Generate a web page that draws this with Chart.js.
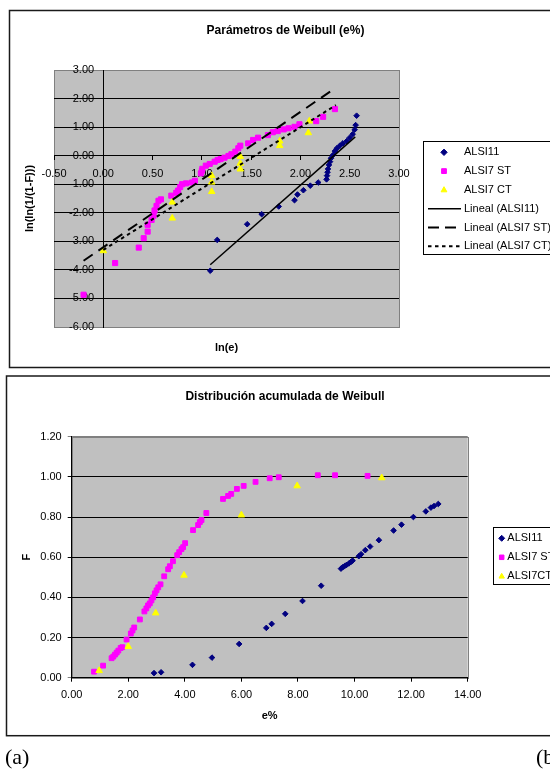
<!DOCTYPE html>
<html>
<head>
<meta charset="utf-8">
<script src="https://cdn.jsdelivr.net/npm/chart.js"></script>
<style>
html, body { margin: 0; padding: 0; background: #fff; width: 550px; height: 769px; overflow: hidden; position: relative; }
canvas { position: absolute; left: 0; }
#weibull { top: 0; }
#accum { top: 370px; }
.tag { position: absolute; font-family: 'Liberation Serif', 'Times New Roman', serif; font-size: 22px; color: #000; white-space: nowrap; }
</style>
</head>
<body>
<canvas id="weibull" width="550" height="370"></canvas>
<canvas id="accum" width="550" height="399"></canvas>
<div class="tag" style="left:5px; top:744px;">(a)</div>
<div class="tag" style="left:536px; top:744px;">(b)</div>
<script>
// Top chart: ln(e) vs ln(ln(1/(1-F)))
const lnE11 = [1.085, 1.156, 1.46, 1.607, 1.78, 1.94, 1.97, 2.03, 2.10, 2.18, 2.265, 2.27, 2.275, 2.28, 2.29, 2.30, 2.31, 2.33, 2.35, 2.37, 2.40, 2.43, 2.47, 2.50, 2.53, 2.55, 2.56, 2.57];
const lnF11 = [-4.03, -2.95, -2.40, -2.05, -1.78, -1.56, -1.36, -1.21, -1.05, -0.94, -0.83, -0.70, -0.58, -0.465, -0.325, -0.21, -0.09, 0.02, 0.16, 0.26, 0.35, 0.43, 0.51, 0.63, 0.75, 0.91, 1.07, 1.40];

const lnEST = [-0.20, 0.12, 0.36, 0.41, 0.45, 0.45, 0.49, 0.51, 0.52, 0.54, 0.56, 0.585, 0.69, 0.74, 0.76, 0.78, 0.80, 0.84, 0.90, 0.93,
    0.99, 1.00, 1.005, 1.04, 1.08, 1.13, 1.16, 1.19, 1.23, 1.27, 1.30, 1.34, 1.37, 1.39, 1.47, 1.52, 1.57, 1.67, 1.72, 1.77,
    1.83, 1.88, 1.94, 1.99, 2.16, 2.23, 2.35];
const lnFST = [-4.87, -3.76, -3.22, -2.89, -2.66, -2.42, -2.25, -2.10, -1.92, -1.76, -1.58, -1.53, -1.40, -1.30, -1.22, -1.10, -1.00, -0.97, -0.94, -0.88,
    -0.62, -0.53, -0.46, -0.35, -0.29, -0.21, -0.15, -0.12, -0.07, -0.01, 0.05, 0.14, 0.26, 0.35, 0.43, 0.55, 0.63, 0.72, 0.82, 0.86,
    0.92, 0.96, 1.01, 1.10, 1.21, 1.36, 1.63];

const lnECT = [0.00, 0.70, 0.70, 1.10, 1.10, 1.10, 1.39, 1.39, 1.39, 1.79, 1.79, 2.08, 2.09];
const lnFCT = [-3.33, -2.19, -1.63, -1.26, -0.93, -0.70, -0.47, -0.27, -0.03, 0.35, 0.51, 0.80, 1.21];

// Trend line end points
const fit11X = [1.085, 2.556];
const fit11Y = [-3.82, 0.66];
const fitSTX = [-0.20, 2.35];
const fitSTY = [-3.68, 2.36];
const fitCTX = [0.00, 2.36];
const fitCTY = [-3.30, 1.77];

// Bottom chart: e% vs F
const e11 = [2.91, 3.16, 4.27, 4.96, 5.92, 6.88, 7.07, 7.55, 8.16, 8.82, 9.52, 9.58, 9.65, 9.72, 9.80, 9.87, 9.93, 10.15, 10.23, 10.38,
    10.55, 10.86, 11.38, 11.66, 12.08, 12.52, 12.70, 12.81, 12.96];
const f11 = [0.023, 0.027, 0.064, 0.10, 0.168, 0.248, 0.268, 0.318, 0.382, 0.458, 0.543, 0.550, 0.556, 0.562, 0.569, 0.576, 0.583, 0.605, 0.615, 0.635,
    0.653, 0.685, 0.733, 0.762, 0.80, 0.828, 0.847, 0.855, 0.865];

const eST = [0.79, 1.11, 1.41, 1.47, 1.53, 1.59, 1.65, 1.73, 1.79, 1.94, 2.09, 2.15, 2.21, 2.41, 2.57, 2.64, 2.70, 2.76, 2.82, 2.88,
    2.94, 3.00, 3.06, 3.14, 3.27, 3.41, 3.47, 3.58, 3.73, 3.80, 3.88, 3.94, 4.01, 4.29, 4.47, 4.53, 4.59, 4.76, 5.35, 5.53,
    5.64, 5.84, 6.08, 6.50, 7.00, 7.32, 8.70, 9.31, 10.46];
const fST = [0.03, 0.06, 0.097, 0.105, 0.115, 0.125, 0.135, 0.148, 0.152, 0.19, 0.22, 0.235, 0.25, 0.29, 0.33, 0.345, 0.36, 0.37, 0.385, 0.40,
    0.42, 0.435, 0.45, 0.465, 0.505, 0.54, 0.555, 0.58, 0.61, 0.625, 0.64, 0.65, 0.67, 0.735, 0.76, 0.775, 0.785, 0.82, 0.89, 0.905,
    0.915, 0.94, 0.955, 0.975, 0.993, 0.998, 1.008, 1.008, 1.005];

const eCT = [0.97, 2.00, 2.97, 3.97, 6.00, 7.97, 10.96];
const fCT = [0.035, 0.155, 0.322, 0.51, 0.81, 0.955, 0.995];

const NAVY = '#000080';
const MAGENTA = '#FF00FF';
const YELLOW = '#FFFF00';
const FONT = "'Liberation Sans', Arial, Helvetica, sans-serif";

Chart.defaults.font.family = FONT;
Chart.defaults.font.size = 11;
Chart.defaults.color = '#000';

const pairs = (xs, ys) => xs.map((x, i) => ({x: x, y: ys[i]}));
const fixed2 = v => Number(v).toFixed(2);
// y labels of the crossing axis sit a few px clear of the axis line
const fixed2Gap = v => Number(v).toFixed(2) + '\u00a0\u00a0\u00a0';
const edgeGrid = (lo, hi) => c => (c.tick && (Math.abs(c.tick.value - lo) < 1e-9 || Math.abs(c.tick.value - hi) < 1e-9)) ? '#808080' : '#000';

function drawMarker(ctx, style, x, y, r, color) {
    ctx.save();
    ctx.fillStyle = color;
    ctx.strokeStyle = color;
    ctx.lineWidth = 1;
    ctx.beginPath();
    if (style === 'rectRot') {
        ctx.moveTo(x, y - r);
        ctx.lineTo(x + r, y);
        ctx.lineTo(x, y + r);
        ctx.lineTo(x - r, y);
    } else if (style === 'rect') {
        ctx.rect(x - r * 0.75, y - r * 0.75, r * 1.5, r * 1.5);
    } else {
        ctx.moveTo(x, y - r);
        ctx.lineTo(x + r * 0.9, y + r * 0.6);
        ctx.lineTo(x - r * 0.9, y + r * 0.6);
    }
    ctx.closePath();
    ctx.fill();
    ctx.stroke();
    ctx.restore();
}

// Plot background, frame, titles and legend box.
const sheet = {
    id: 'sheet',
    beforeDraw(chart, args, o) {
        const {ctx, chartArea: a} = chart;
        ctx.save();
        ctx.fillStyle = '#C0C0C0';
        ctx.fillRect(a.left, a.top, a.right - a.left, a.bottom - a.top);
        ctx.strokeStyle = '#808080';
        ctx.lineWidth = 1;
        ctx.strokeRect(Math.round(a.left) + 0.5, Math.round(a.top) + 0.5, Math.round(a.right - a.left), Math.round(a.bottom - a.top));
        ctx.strokeStyle = '#1a1a1a';
        ctx.lineWidth = 1.5;
        ctx.strokeRect(o.frame[0], o.frame[1], o.frame[2], o.frame[3]);
        ctx.restore();
    },
    afterDraw(chart, args, o) {
        const ctx = chart.ctx;
        ctx.save();
        ctx.fillStyle = '#000';
        ctx.textBaseline = 'middle';
        ctx.textAlign = 'center';
        ctx.font = 'bold 12px ' + FONT;
        ctx.fillText(o.title, o.titleAt[0], o.titleAt[1]);
        ctx.font = 'bold 11px ' + FONT;
        (o.axisTitles || []).forEach(t => {
            ctx.save();
            ctx.translate(t.at[0], t.at[1]);
            ctx.rotate(t.rot || 0);
            ctx.fillText(t.text, 0, 0);
            ctx.restore();
        });
        const L = o.legend;
        ctx.strokeStyle = '#000';
        ctx.lineWidth = 1;
        ctx.strokeRect(L.box[0], L.box[1], L.box[2], L.box[3]);
        ctx.font = '11px ' + FONT;
        ctx.textAlign = 'left';
        L.items.forEach((it, i) => {
            const y = L.top + i * L.step;
            if (it.style === 'line') {
                ctx.save();
                ctx.strokeStyle = '#000';
                ctx.lineWidth = it.width;
                ctx.setLineDash(it.dash);
                ctx.beginPath();
                ctx.moveTo(L.line[0], y);
                ctx.lineTo(L.line[1], y);
                ctx.stroke();
                ctx.restore();
            } else {
                drawMarker(ctx, it.style, L.marker, y, L.size, it.color);
            }
            ctx.fillText(it.label, L.text, y);
        });
        ctx.restore();
    }
};

const pointSet = (label, data, style, color, r, order) => ({
    label: label, data: data, pointStyle: style, pointRadius: r, pointHoverRadius: r,
    backgroundColor: color, borderColor: color, pointBorderWidth: 1, order: order,
});
const fitSet = (label, data, dash, width) => ({
    label: label, data: data, showLine: true, borderColor: '#000', borderWidth: width,
    borderDash: dash, pointRadius: 0, fill: false, order: 0,
});

new Chart(document.getElementById('weibull'), {
    type: 'scatter',
    data: {
        datasets: [
            pointSet('ALSI11', pairs(lnE11, lnF11), 'rectRot', NAVY, 2.8, 3),
            pointSet('ALSI7 ST', pairs(lnEST, lnFST), 'rect', MAGENTA, 3.6, 2),
            pointSet('ALSI7 CT', pairs(lnECT, lnFCT), 'triangle', YELLOW, 3.8, 1),
            fitSet('Lineal (ALSI11)', pairs(fit11X, fit11Y), [], 1.5),
            fitSet('Lineal (ALSI7 ST)', pairs(fitSTX, fitSTY), [11, 7], 2),
            fitSet('Lineal (ALSI7 CT)', pairs(fitCTX, fitCTY), [3.5, 3.5], 2),
        ],
    },
    options: {
        responsive: false,
        animation: false,
        events: [],
        layout: {padding: {left: 54, top: 70, right: 151, bottom: 43}},
        scales: {
            x: {
                type: 'linear', min: -0.5, max: 3, position: {y: 0},
                ticks: {stepSize: 0.5, callback: fixed2, autoSkip: false, maxRotation: 0, padding: 8},
                grid: {drawOnChartArea: false, tickLength: 4, color: '#000'},
                border: {color: '#000', width: 1},
            },
            y: {
                type: 'linear', min: -6, max: 3, position: {x: 0},
                ticks: {stepSize: 1, callback: fixed2Gap, padding: 5},
                grid: {color: edgeGrid(-6, 3), tickLength: 4},
                border: {color: '#000', width: 1},
            },
        },
        plugins: {
            legend: {display: false},
            tooltip: {enabled: false},
            sheet: {
                frame: [9.5, 10.5, 600, 357],
                title: 'Parámetros de Weibull (e%)',
                titleAt: [285.5, 30.7],
                axisTitles: [
                    {text: 'ln(ln(1/(1-F)))', at: [30, 198.5], rot: -Math.PI / 2},
                    {text: 'ln(e)', at: [226.5, 347.7]},
                ],
                legend: {
                    box: [423.5, 141.5, 200, 113], top: 152.3, step: 18.8,
                    marker: 444, size: 3.2, text: 464, line: [428, 461],
                    items: [
                        {label: 'ALSI11', style: 'rectRot', color: NAVY},
                        {label: 'ALSI7 ST', style: 'rect', color: MAGENTA},
                        {label: 'ALSI7 CT', style: 'triangle', color: YELLOW},
                        {label: 'Lineal (ALSI11)', style: 'line', dash: [], width: 1.5},
                        {label: 'Lineal (ALSI7 ST)', style: 'line', dash: [11, 6], width: 2},
                        {label: 'Lineal (ALSI7 CT)', style: 'line', dash: [3.5, 3.5], width: 2},
                    ],
                },
            },
        },
    },
    plugins: [sheet],
});

new Chart(document.getElementById('accum'), {
    type: 'scatter',
    data: {
        datasets: [
            pointSet('ALSI11', pairs(e11, f11), 'rectRot', NAVY, 2.8, 3),
            pointSet('ALSI7 ST', pairs(eST, fST), 'rect', MAGENTA, 3.4, 2),
            pointSet('ALSI7CT', pairs(eCT, fCT), 'triangle', YELLOW, 3.8, 1),
        ],
    },
    options: {
        responsive: false,
        animation: false,
        events: [],
        layout: {padding: {left: 20, top: 66.7, right: 82.3, bottom: 46.7}},
        scales: {
            x: {
                type: 'linear', position: 'bottom', min: 0, max: 14,
                ticks: {stepSize: 2, callback: fixed2, autoSkip: false, maxRotation: 0, padding: 7},
                grid: {drawOnChartArea: false, tickLength: 4, color: '#000'},
                border: {color: '#000', width: 1},
                title: {display: true, text: 'e%', font: {weight: 'bold', size: 11}, padding: 0},
                afterFit: s => { s.height = 44.6; },
            },
            y: {
                type: 'linear', position: 'left', min: 0, max: 1.2,
                ticks: {stepSize: 0.2, callback: fixed2, padding: 6},
                grid: {color: edgeGrid(0, 1.2), tickLength: 4},
                border: {color: '#000', width: 1},
                title: {display: true, text: 'F', font: {weight: 'bold', size: 11}, padding: 0},
                afterFit: s => { s.width = 51.7; },
            },
        },
        plugins: {
            legend: {display: false},
            tooltip: {enabled: false},
            sheet: {
                frame: [6.5, 6, 600, 359.7],
                title: 'Distribución acumulada de Weibull',
                titleAt: [285, 26.7],
                legend: {
                    box: [493.5, 157.5, 100, 57], top: 168.3, step: 19,
                    marker: 501.7, size: 3, text: 507.3,
                    items: [
                        {label: 'ALSI11', style: 'rectRot', color: NAVY},
                        {label: 'ALSI7 ST', style: 'rect', color: MAGENTA},
                        {label: 'ALSI7CT', style: 'triangle', color: YELLOW},
                    ],
                },
            },
        },
    },
    plugins: [sheet],
});
</script>
</body>
</html>
